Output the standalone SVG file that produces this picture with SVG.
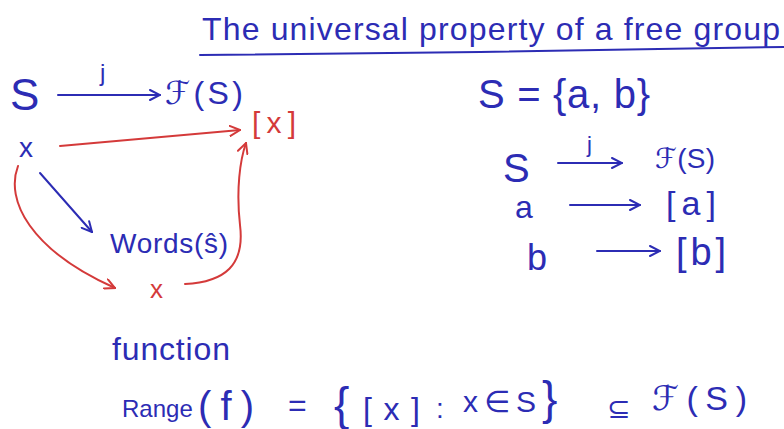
<svg xmlns="http://www.w3.org/2000/svg" width="784" height="429" viewBox="0 0 784 429">
<defs>
<style>
.b{fill:#2c2cb4;font-family:"Liberation Sans","DejaVu Sans",sans-serif}
.r{fill:#d43a3a;font-family:"Liberation Sans","DejaVu Sans",sans-serif}
.lb{fill:none;stroke:#2c2cb4;stroke-width:2;stroke-linecap:round;stroke-linejoin:round}
.lr{fill:none;stroke:#d43a3a;stroke-width:2;stroke-linecap:round;stroke-linejoin:round}
</style>
<marker id="ab" viewBox="0 0 12 12" refX="11" refY="6" markerWidth="12" markerHeight="12" markerUnits="userSpaceOnUse" orient="auto"><path d="M1,1 L11,6 L1,11" fill="none" stroke="#2c2cb4" stroke-width="2" stroke-linecap="round"/></marker>
<marker id="ar" viewBox="0 0 12 12" refX="11" refY="6" markerWidth="12" markerHeight="12" markerUnits="userSpaceOnUse" orient="auto"><path d="M1,1 L11,6 L1,11" fill="none" stroke="#d43a3a" stroke-width="2" stroke-linecap="round"/></marker>
</defs>
<rect width="784" height="429" fill="#fff"/>
<g id="title">
<text class="b" x="202" y="40" font-size="32" textLength="578" lengthAdjust="spacing">The universal property of a free group</text>
<path class="lb" d="M200,55 L480,52 L784,47"/>
</g>
<g id="node-S"><text class="b" x="10" y="110" font-size="44">S</text></g>
<g id="node-FS"><text class="b" x="165" y="104" font-size="32" textLength="78" lengthAdjust="spacing">ℱ(S)</text></g>
<g id="label-j"><text class="b" x="100" y="81" font-size="24">j</text></g>
<g id="node-x"><text class="b" x="19" y="157" font-size="28">x</text></g>
<g id="node-bx"><text class="r" x="252" y="133" font-size="30" textLength="44" lengthAdjust="spacing">[x]</text></g>
<g id="node-words"><text class="b" x="110" y="253" font-size="28" textLength="118" lengthAdjust="spacing">Words(ŝ)</text></g>
<g id="node-rx"><text class="r" x="150" y="298" font-size="26">x</text></g>
<g id="connectors">
<path class="lb" d="M58,95 L160,95" marker-end="url(#ab)"/>
<path class="lr" d="M60,146 L240,130" marker-end="url(#ar)"/>
<path class="lb" d="M40,173 L92,232" marker-end="url(#ab)"/>
<path class="lr" d="M18,166 C5,200 30,250 115,288" marker-end="url(#ar)"/>
<path class="lr" d="M185,284 C225,282 245,265 240,225 C236,190 240,160 246,143" marker-end="url(#ar)"/>
<path class="lb" d="M558,163 L622,163" marker-end="url(#ab)"/>
<path class="lb" d="M570,205 L640,205" marker-end="url(#ab)"/>
<path class="lb" d="M597,251 L660,251" marker-end="url(#ab)"/>
</g>
<g id="set-def"><text class="b" x="478" y="108" font-size="40" textLength="172" lengthAdjust="spacing">S = {a, b}</text></g>
<g id="node-S2"><text class="b" x="503" y="182" font-size="40">S</text></g>
<g id="label-j2"><text class="b" x="587" y="152" font-size="22">j</text></g>
<g id="node-FS2"><text class="b" x="655" y="168" font-size="28" textLength="60" lengthAdjust="spacing">ℱ(S)</text></g>
<g id="node-a"><text class="b" x="515" y="218" font-size="32">a</text></g>
<g id="node-ba"><text class="b" x="666" y="215" font-size="34" textLength="50" lengthAdjust="spacing">[a]</text></g>
<g id="node-b"><text class="b" x="527" y="270" font-size="36">b</text></g>
<g id="node-bb"><text class="b" x="676" y="265" font-size="38" textLength="50" lengthAdjust="spacing">[b]</text></g>
<g id="note">
<text class="b" x="112" y="360" font-size="32" textLength="118" lengthAdjust="spacing">function</text>
<text class="b" x="122" y="417" font-size="24">Range</text>
<text class="b" x="198" y="420" font-size="40" textLength="56" lengthAdjust="spacing">(f)</text>
<text class="b" x="288" y="416" font-size="32">=</text>
<text class="b" x="334" y="420" font-size="46">{</text>
<text class="b" x="363" y="420" font-size="32" textLength="57" lengthAdjust="spacing">[x]</text>
<text class="b" x="436" y="418" font-size="28">:</text>
<text class="b" x="463" y="412" font-size="30" textLength="73" lengthAdjust="spacing">x∈S</text>
<text class="b" x="542" y="414" font-size="46">}</text>
<text class="b" x="607" y="418" font-size="28">⊆</text>
<text class="b" x="652" y="410" font-size="34" textLength="95" lengthAdjust="spacing">ℱ(S)</text>
</g>
</svg>
